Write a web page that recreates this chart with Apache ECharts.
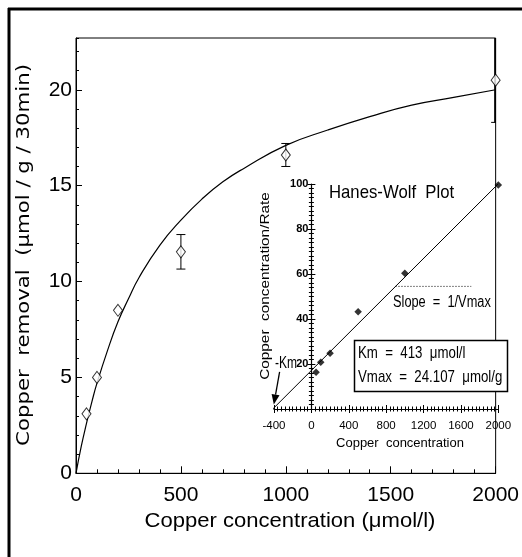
<!DOCTYPE html>
<html><head><meta charset="utf-8">
<script src="https://cdn.jsdelivr.net/npm/echarts@6/dist/echarts.min.js"></script>
<style>html,body{margin:0;padding:0;background:#fff}#c{width:522px;height:557px}</style>
</head><body><div id="c"></div><script>
const REG = "'Liberation Sans',Arial,sans-serif";
const WIDE = "'DejaVu Sans','Liberation Sans',sans-serif";

// Main plot: copper removal vs concentration
const removalConc = [50, 100, 200, 500, 1000, 2000];
const removalVal  = [3.1, 5.0, 8.5, 11.55, 16.6, 20.5];
const errConc = [500, 1000, 2000];
const errLow  = [10.65, 16.0, 18.3];
const errHigh = [12.45, 17.2, 22.9];
// fitted curve
const fitConc = [0, 25, 50, 75, 100, 150, 200, 250, 300, 400, 500, 600, 700, 800, 1000, 1200, 1400, 1600, 1800, 2000];
const fitVal  = [0, 1.4, 2.6, 3.7, 4.7, 6.4, 7.9, 9.1, 10.2, 11.9, 13.2, 14.3, 15.2, 15.9, 17.1, 17.9, 18.6, 19.2, 19.6, 20.0];
const mainXTickLabels = ['0', '500', '1000', '1500', '2000'];

// Inset: Hanes-Woolf plot
const hwConc  = [50, 100, 200, 500, 1000, 2000];
const hwRatio = [16.3, 20.8, 24.8, 43.2, 60.3, 99.6];
const hwLineConc  = [-413, 2000];
const hwLineRatio = [0, 100.1];
const slopeConc  = [900, 1710];
const slopeRatio = [54.5, 54.5];
const kmArrowConc  = [-340, -402];
const kmArrowRatio = [16.5, 2];
const insetXTickLabels = ['-400', '0', '400', '800', '1200', '1600', '2000'];

const insetXMin = -400, insetXMax = 2000;
const insetLeft = 274, insetWidth = 224.3, insetTop = 184, insetHeight = 225;
const insetYAxisLeft = insetLeft + (0 - insetXMin) / (insetXMax - insetXMin) * insetWidth;

const chart = echarts.init(document.getElementById('c'), null, {renderer: 'canvas'});
const errData = errConc.map((c, i) => [c, errLow[i], errHigh[i]]);
const blk = {color: '#000'};

const option = {
  animation: false,
  backgroundColor: '#fff',
  grid: [
    {left: 76, top: 38, width: 431, height: 435.3, show: true, borderColor: '#000', borderWidth: 1, backgroundColor: 'transparent'},
    {left: insetLeft, top: insetTop, width: insetWidth, height: insetHeight, show: false},
    {left: insetYAxisLeft, top: insetTop, width: insetLeft + insetWidth - insetYAxisLeft, height: insetHeight, show: false}
  ],
  xAxis: [
    {gridIndex: 0, type: 'value', min: 0, max: 2000, interval: 500,
     axisLine: {onZero: false, lineStyle: {color: '#000', width: 1}},
     axisTick: {inside: true, length: 7, lineStyle: blk},
     minorTick: {show: true, splitNumber: 5, length: 4, lineStyle: blk},
     splitLine: {show: false},
     axisLabel: {color: '#000', fontFamily: REG, fontSize: 21, margin: 11,
                 formatter: (v) => mainXTickLabels[Math.round(v / 500)] || ''}},
    {gridIndex: 1, type: 'value', min: insetXMin, max: insetXMax, interval: 400, position: 'bottom',
     axisLine: {onZero: false, lineStyle: {color: '#000', width: 1.2}},
     axisTick: {inside: false, length: 4, lineStyle: blk},
     minorTick: {show: true, splitNumber: 10, length: 2.5, lineStyle: blk},
     splitLine: {show: false},
     axisLabel: {color: '#000', fontFamily: REG, fontSize: 11.5, margin: 11,
                 formatter: (v) => insetXTickLabels[Math.round((v - insetXMin) / 400)] || ''}},
    {gridIndex: 1, type: 'value', min: insetXMin, max: insetXMax, interval: 400, position: 'bottom',
     axisLine: {show: false, onZero: false},
     axisTick: {inside: true, length: 4, lineStyle: blk},
     minorTick: {show: true, splitNumber: 10, length: 2.5, lineStyle: blk},
     splitLine: {show: false}, axisLabel: {show: false}},
    {gridIndex: 2, type: 'value', min: 0, max: insetXMax, show: false}
  ],
  yAxis: [
    {gridIndex: 0, type: 'value', min: 0, max: 22.7, interval: 5,
     axisLine: {onZero: false, lineStyle: {color: '#000', width: 1}},
     axisTick: {inside: true, length: 6, lineStyle: blk},
     splitLine: {show: false},
     axisLabel: {color: '#000', fontFamily: REG, fontSize: 21, margin: 4, showMaxLabel: false}},
    {gridIndex: 0, type: 'value', min: 0, max: 22.7, interval: 1, position: 'left',
     axisLine: {show: false, onZero: false},
     axisTick: {inside: true, length: 3, lineStyle: blk},
     splitLine: {show: false}, axisLabel: {show: false}},
    {gridIndex: 1, type: 'value', min: 0, max: 100, show: false},
    {gridIndex: 2, type: 'value', min: 0, max: 100, interval: 20, position: 'left',
     axisLine: {onZero: false, lineStyle: {color: '#000', width: 1.2}},
     axisTick: {inside: false, length: 4, lineStyle: blk},
     minorTick: {show: true, splitNumber: 10, length: 2.5, lineStyle: blk},
     splitLine: {show: false},
     axisLabel: {color: '#000', fontFamily: REG, fontSize: 11, fontWeight: 'bold', margin: 3,
                 formatter: (v) => v === 0 ? '' : String(v)}},
    {gridIndex: 2, type: 'value', min: 0, max: 100, interval: 20, position: 'left',
     axisLine: {show: false, onZero: false},
     axisTick: {inside: true, length: 4, lineStyle: blk},
     minorTick: {show: true, splitNumber: 10, length: 2.5, lineStyle: blk},
     splitLine: {show: false}, axisLabel: {show: false}}
  ],
  series: [
    {type: 'line', xAxisIndex: 0, yAxisIndex: 0, smooth: true, showSymbol: false, symbol: 'none',
     data: fitConc.map((c, i) => [c, fitVal[i]]), lineStyle: {color: '#000', width: 1.2}, z: 2},
    {type: 'custom', xAxisIndex: 0, yAxisIndex: 0, clip: true, data: errData, z: 3,
     renderItem: function (params, api) {
       const x = api.value(0), lo = api.value(1), hi = api.value(2);
       const p1 = api.coord([x, lo]), p2 = api.coord([x, hi]);
       const w = 4.5, st = {stroke: '#000', lineWidth: 1};
       const edge = params.dataIndex === errConc.length - 1;
       return {type: 'group', children: [
         {type: 'line', shape: {x1: p1[0], y1: p1[1], x2: p2[0], y2: p2[1]}, style: {stroke: '#000', lineWidth: edge ? 3 : 1}},
         {type: 'line', shape: {x1: p1[0] - w, y1: p1[1], x2: p1[0] + w, y2: p1[1]}, style: st},
         {type: 'line', shape: {x1: p2[0] - w, y1: p2[1], x2: p2[0] + w, y2: p2[1]}, style: st}
       ]};
     }},
    {type: 'scatter', xAxisIndex: 0, yAxisIndex: 0, symbol: 'diamond', symbolSize: [9, 12], z: 4,
     data: removalConc.map((c, i) => [c, removalVal[i]]),
     itemStyle: {color: '#fff', borderColor: '#000', borderWidth: 1}},
    {type: 'line', xAxisIndex: 1, yAxisIndex: 2, showSymbol: false, symbol: 'none',
     data: hwLineConc.map((c, i) => [c, hwLineRatio[i]]), lineStyle: {color: '#000', width: 1}, z: 5},
    {type: 'line', xAxisIndex: 1, yAxisIndex: 2, showSymbol: false, symbol: 'none',
     data: slopeConc.map((c, i) => [c, slopeRatio[i]]), lineStyle: {color: '#000', width: 1, type: [1, 2]}, z: 5},
    {type: 'scatter', xAxisIndex: 1, yAxisIndex: 2, symbol: 'diamond', symbolSize: 7.5, z: 6,
     data: hwConc.map((c, i) => [c, hwRatio[i]]), itemStyle: {color: '#000'}},
    {type: 'custom', xAxisIndex: 1, yAxisIndex: 2, clip: false, z: 6,
     data: [[kmArrowConc[0], kmArrowRatio[0], kmArrowConc[1], kmArrowRatio[1]]],
     renderItem: function (params, api) {
       const a = api.coord([api.value(0), api.value(1)]);
       const b = api.coord([api.value(2), api.value(3)]);
       const dx = b[0] - a[0], dy = b[1] - a[1], len = Math.hypot(dx, dy);
       const ux = dx / len, uy = dy / len, hl = 10, hw = 4;
       const base = [b[0] - ux * hl, b[1] - uy * hl];
       return {type: 'group', children: [
         {type: 'line', shape: {x1: a[0], y1: a[1], x2: base[0], y2: base[1]}, style: {stroke: '#000', lineWidth: 1.3}},
         {type: 'polygon', shape: {points: [b, [base[0] - uy * hw, base[1] + ux * hw], [base[0] + uy * hw, base[1] - ux * hw]]}, style: {fill: '#000'}}
       ]};
     }}
  ],
  graphic: [
    {type: 'line', shape: {x1: 8, y1: 9, x2: 522, y2: 9}, style: {stroke: '#000', lineWidth: 3}},
    {type: 'line', shape: {x1: 9, y1: 8, x2: 9, y2: 557}, style: {stroke: '#000', lineWidth: 3}},
    {type: 'text', x: 290, y: 521, scaleX: 1.05, style: {text: 'Copper concentration (μmol/l)', font: '21px ' + REG, fill: '#000', align: 'center', verticalAlign: 'middle'}},
    {type: 'text', x: 25, y: 255, rotation: Math.PI / 2, scaleX: 1.25, style: {text: 'Copper  removal  (μmol / g / 30min)', font: '17px ' + WIDE, fill: '#000', align: 'center', verticalAlign: 'middle'}},
    {type: 'text', x: 329, y: 193, scaleX: 0.88, style: {text: 'Hanes-Wolf  Plot', font: '19px ' + REG, fill: '#000', align: 'left', verticalAlign: 'middle'}},
    {type: 'text', x: 393, y: 303, scaleX: 0.8, style: {text: 'Slope  =  1/Vmax', font: '16px ' + REG, fill: '#000', align: 'left', verticalAlign: 'middle'}},
    {type: 'text', x: 275, y: 364, scaleX: 0.75, style: {text: '-Km', font: '16px ' + REG, fill: '#000', align: 'left', verticalAlign: 'middle'}},
    {type: 'rect', shape: {x: 354.5, y: 340.5, width: 153, height: 51}, style: {fill: '#fff', stroke: '#000', lineWidth: 1.5}, z: 10},
    {type: 'text', x: 358, y: 353, z: 11, scaleX: 0.78, style: {text: 'Km  =  413  μmol/l', font: '17px ' + REG, fill: '#000', align: 'left', verticalAlign: 'middle'}},
    {type: 'text', x: 358, y: 377, z: 11, scaleX: 0.78, style: {text: 'Vmax  =  24.107  μmol/g', font: '17px ' + REG, fill: '#000', align: 'left', verticalAlign: 'middle'}},
    {type: 'text', x: 400, y: 443, style: {text: 'Copper  concentration', font: '13px ' + REG, fill: '#000', align: 'center', verticalAlign: 'middle'}},
    {type: 'text', x: 265, y: 286, rotation: Math.PI / 2, scaleX: 1.18, style: {text: 'Copper  concentration/Rate', font: '13px ' + REG, fill: '#000', align: 'center', verticalAlign: 'middle'}}
  ]
};
chart.setOption(option);
</script></body></html>
